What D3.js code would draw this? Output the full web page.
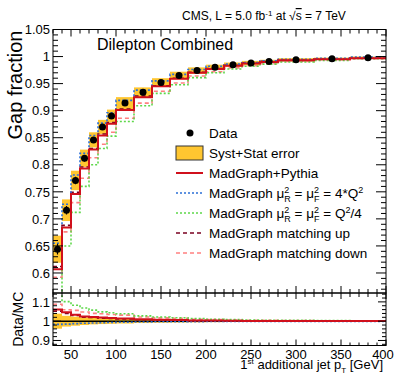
<!DOCTYPE html>
<html>
<head>
<meta charset="utf-8">
<script src="https://cdn.jsdelivr.net/npm/d3@7"></script>
<style>
  body { margin: 0; background: #fff; }
  svg { font-family: "Liberation Sans", Arial, sans-serif; }
</style>
</head>
<body>
<svg id="chart" width="407" height="391"></svg>
<script>
// bins in GeV
const binEdges = [30, 40, 50, 60, 70, 80, 90, 100, 120, 140, 160, 180, 200, 220, 240, 260, 280, 320, 360, 400];
// measured gap fraction
const dataGap  = [0.644, 0.716, 0.771, 0.812, 0.846, 0.870, 0.890, 0.914, 0.934, 0.952, 0.965, 0.974, 0.980, 0.985, 0.988, 0.991, 0.994, 0.996, 0.998];
const dataStat = [0.010, 0.008, 0.007, 0.006, 0.005, 0.005, 0.004, 0.003, 0.003, 0.002, 0.002, 0.002, 0.002, 0.001, 0.001, 0.001, 0.001, 0.001, 0.001];
const dataErr  = [0.025, 0.020, 0.018, 0.016, 0.014, 0.013, 0.012, 0.011, 0.009, 0.008, 0.007, 0.006, 0.005, 0.004, 0.004, 0.003, 0.003, 0.002, 0.002];
// simulations
const mgPythia  = [0.607, 0.684, 0.746, 0.793, 0.828, 0.854, 0.876, 0.901, 0.925, 0.945, 0.959, 0.970, 0.977, 0.983, 0.987, 0.990, 0.993, 0.995, 0.997];
const mgScaleUp = [0.655, 0.727, 0.781, 0.821, 0.854, 0.877, 0.896, 0.919, 0.938, 0.955, 0.967, 0.976, 0.982, 0.986, 0.989, 0.992, 0.995, 0.997, 0.999];
const mgScaleDn = [0.560, 0.650, 0.712, 0.760, 0.800, 0.830, 0.853, 0.880, 0.909, 0.932, 0.948, 0.961, 0.970, 0.977, 0.982, 0.986, 0.990, 0.993, 0.996];
const mgMatchUp = [0.612, 0.688, 0.749, 0.796, 0.830, 0.857, 0.878, 0.903, 0.927, 0.946, 0.960, 0.971, 0.978, 0.984, 0.988, 0.991, 0.993, 0.995, 0.997];
const mgMatchDn = [0.592, 0.676, 0.730, 0.775, 0.813, 0.838, 0.860, 0.886, 0.914, 0.936, 0.951, 0.964, 0.972, 0.979, 0.983, 0.987, 0.991, 0.994, 0.996];
// ticks
const xTicks = [50, 100, 150, 200, 250, 300, 350, 400];
const yTicks = [0.6, 0.65, 0.7, 0.75, 0.8, 0.85, 0.9, 0.95, 1, 1.05];
const rTicks = [0.9, 1, 1.1];

const YELLOW = "#ffc630";
const series = [
  {vals: mgPythia,  color: "#d0101c", dash: null,  w: 2},
  {vals: mgScaleUp, color: "#2b6fd6", dash: "2,2", w: 1.6},
  {vals: mgScaleDn, color: "#5ed84a", dash: "2,2", w: 1.6},
  {vals: mgMatchUp, color: "#7a0020", dash: "4,3", w: 1.6},
  {vals: mgMatchDn, color: "#ff8080", dash: "4,3", w: 1.6}
];

var svg = d3.select("#chart");
var L = 53, R = 386, T = 29.5, M = 293, B = 345.5;

var x = d3.scaleLinear().domain([30, 400]).range([L, R]);
var y = d3.scaleLinear().domain([0.563, 1.05]).range([M, T]);
var yr = d3.scaleLinear().domain([0.874, 1.146]).range([B, M]);

var defs = svg.append("defs");
defs.append("clipPath").attr("id", "clipMain").append("rect")
  .attr("x", L).attr("y", T).attr("width", R - L).attr("height", M - T);
defs.append("clipPath").attr("id", "clipRatio").append("rect")
  .attr("x", L).attr("y", M).attr("width", R - L).attr("height", B - M);

function stepPts(vals) {
  var pts = [];
  vals.forEach(function(v, i) { pts.push([binEdges[i], v]); pts.push([binEdges[i + 1], v]); });
  return pts;
}

// ---- main pad
var gMain = svg.append("g").attr("clip-path", "url(#clipMain)");
dataGap.forEach(function(v, i) {
  gMain.append("rect")
    .attr("x", x(binEdges[i])).attr("width", x(binEdges[i + 1]) - x(binEdges[i]))
    .attr("y", y(v + dataErr[i])).attr("height", y(v - dataErr[i]) - y(v + dataErr[i]))
    .style("fill", YELLOW);
});
var lineMain = d3.line().x(d => x(d[0])).y(d => y(d[1]));
series.slice().reverse().forEach(function(s) {
  gMain.append("path").attr("d", lineMain(stepPts(s.vals)))
    .style("fill", "none").style("stroke", s.color).style("stroke-width", s.w)
    .style("stroke-dasharray", s.dash);
});
dataGap.forEach(function(v, i) {
  var cx = x((binEdges[i] + binEdges[i + 1]) / 2);
  gMain.append("line").attr("x1", cx).attr("x2", cx)
    .attr("y1", y(v + dataStat[i])).attr("y2", y(v - dataStat[i]))
    .style("stroke", "black").style("stroke-width", 1.2);
  gMain.append("circle").attr("cx", cx).attr("cy", y(v)).attr("r", 3.5).style("fill", "black");
});

// ---- ratio pad
var gRat = svg.append("g").attr("clip-path", "url(#clipRatio)");
dataGap.forEach(function(v, i) {
  var rel = dataErr[i] / v;
  gRat.append("rect")
    .attr("x", x(binEdges[i])).attr("width", x(binEdges[i + 1]) - x(binEdges[i]))
    .attr("y", yr(1 + rel)).attr("height", yr(1 - rel) - yr(1 + rel))
    .style("fill", YELLOW);
});
gRat.append("line").attr("x1", L).attr("x2", R).attr("y1", yr(1)).attr("y2", yr(1))
  .style("stroke", "black").style("stroke-width", 1.5);
var lineRat = d3.line().x(d => x(d[0])).y(d => yr(d[1]));
series.slice().reverse().forEach(function(s) {
  var ratio = dataGap.map((v, i) => v / s.vals[i]);
  gRat.append("path").attr("d", lineRat(stepPts(ratio)))
    .style("fill", "none").style("stroke", s.color).style("stroke-width", s.w)
    .style("stroke-dasharray", s.dash);
});

// ---- frames and ticks
function frame(top, bot) {
  svg.append("rect").attr("x", L).attr("y", top).attr("width", R - L).attr("height", bot - top)
    .style("fill", "none").style("stroke", "black").style("stroke-width", 1);
}
frame(T, M);
frame(M, B);

function tickLines(vals, fn) {
  vals.forEach(function(v) { var a = fn(v); svg.append("line").attr("x1", a[0]).attr("y1", a[1]).attr("x2", a[2]).attr("y2", a[3]).style("stroke", "black").style("stroke-width", 1); });
}
var xMinor = d3.range(30, 401, 10).filter(v => v % 50 != 0);
var yMinor = d3.range(57, 105).map(v => v / 100).filter(v => Math.round(v * 100) % 5 != 0);
var rMinor = [0.88, 0.92, 0.94, 0.96, 0.98, 1.02, 1.04, 1.06, 1.08, 1.12, 1.14];

// main pad x ticks (top and bottom)
tickLines(xTicks, v => [x(v), T, x(v), T + 7]);
tickLines(xMinor, v => [x(v), T, x(v), T + 4]);
tickLines(xTicks, v => [x(v), M, x(v), M - 7]);
tickLines(xMinor, v => [x(v), M, x(v), M - 4]);
// ratio pad x ticks
tickLines(xTicks, v => [x(v), M, x(v), M + 6]);
tickLines(xMinor, v => [x(v), M, x(v), M + 4]);
tickLines(xTicks, v => [x(v), B, x(v), B - 6]);
tickLines(xMinor, v => [x(v), B, x(v), B - 3]);
// main y ticks
tickLines(yTicks, v => [L, y(v), L + 10, y(v)]);
tickLines(yMinor, v => [L, y(v), L + 5, y(v)]);
tickLines(yTicks, v => [R, y(v), R - 10, y(v)]);
tickLines(yMinor, v => [R, y(v), R - 5, y(v)]);
// ratio y ticks
tickLines(rTicks, v => [L, yr(v), L + 8, yr(v)]);
tickLines(rMinor, v => [L, yr(v), L + 4, yr(v)]);
tickLines(rTicks, v => [R, yr(v), R - 8, yr(v)]);
tickLines(rMinor, v => [R, yr(v), R - 4, yr(v)]);

// tick labels
var fmt = v => String(+v.toFixed(2));
svg.append("g").selectAll("text").data(yTicks).enter().append("text")
  .attr("x", 50).attr("y", d => y(d)).attr("dy", "0.36em")
  .attr("text-anchor", "end").style("font-size", "13px").text(fmt);
svg.append("g").selectAll("text").data(rTicks).enter().append("text")
  .attr("x", 50).attr("y", d => yr(d)).attr("dy", "0.36em")
  .attr("text-anchor", "end").style("font-size", "13px").text(fmt);
svg.append("g").selectAll("text").data(xTicks).enter().append("text")
  .attr("x", d => d == 400 ? x(d) - 3 : x(d)).attr("y", 358.5)
  .attr("text-anchor", "middle").style("font-size", "13px").text(d => d);

// axis titles
svg.append("text").attr("transform", "translate(22," + (T + 1) + ") rotate(-90)")
  .attr("text-anchor", "end").style("font-size", "20px").text("Gap fraction");
svg.append("text").attr("transform", "translate(23," + ((M + B) / 2) + ") rotate(-90)")
  .attr("text-anchor", "middle").style("font-size", "14px").text("Data/MC");

var xt = svg.append("text").attr("x", 383).attr("y", 369).attr("text-anchor", "end").style("font-size", "13px");
xt.append("tspan").text("1");
xt.append("tspan").attr("dy", -5).style("font-size", "8px").text("st");
xt.append("tspan").attr("dy", 5).text(" additional jet p");
xt.append("tspan").attr("dy", 4).style("font-size", "8px").text("T");
xt.append("tspan").attr("dy", -4).text(" [GeV]");

// header
var ht = svg.append("text").attr("x", 182).attr("y", 20).style("font-size", "12px");
ht.append("tspan").text("CMS, L = 5.0 fb");
ht.append("tspan").attr("dy", -4).style("font-size", "8px").text("-1");
ht.append("tspan").attr("dy", 4).text(" at ");
ht.append("tspan").text("\u221A");
ht.append("tspan").style("text-decoration", "overline").text("s");
ht.append("tspan").text(" = 7 TeV");

svg.append("text").attr("x", 97).attr("y", 50).style("font-size", "16px").text("Dilepton Combined");

// ---- legend
var lg = svg.append("g").style("font-size", "13.5px");
var rowY = i => 133 + 20 * i;
lg.append("circle").attr("cx", 190).attr("cy", rowY(0)).attr("r", 3.5).style("fill", "black");
lg.append("rect").attr("x", 176).attr("y", rowY(1) - 7).attr("width", 27).attr("height", 14)
  .style("fill", YELLOW).style("stroke", "#333").style("stroke-width", 1);
series.forEach(function(s, i) {
  lg.append("line").attr("x1", 176).attr("x2", 203).attr("y1", rowY(i + 2)).attr("y2", rowY(i + 2))
    .style("stroke", s.color).style("stroke-width", s.w).style("stroke-dasharray", s.dash);
});
function legText(i) { return lg.append("text").attr("x", 209).attr("y", rowY(i) + 4.5); }
legText(0).text("Data");
legText(1).text("Syst+Stat error");
legText(2).text("MadGraph+Pythia");
function muText(t, last) {
  t.append("tspan").text("MadGraph \u03BC");
  t.append("tspan").attr("dy", -5).style("font-size", "9px").text("2");
  t.append("tspan").attr("dx", -5).attr("dy", 9).style("font-size", "9px").text("R");
  t.append("tspan").attr("dy", -4).text(" = \u03BC");
  t.append("tspan").attr("dy", -5).style("font-size", "9px").text("2");
  t.append("tspan").attr("dx", -5).attr("dy", 9).style("font-size", "9px").text("F");
  t.append("tspan").attr("dy", -4).text(last[0]);
  t.append("tspan").attr("dy", -5).style("font-size", "9px").text("2");
  if (last[1]) t.append("tspan").attr("dy", 5).text(last[1]);
}
muText(legText(3), [" = 4*Q", ""]);
muText(legText(4), [" = Q", "/4"]);
legText(5).text("MadGraph matching up");
legText(6).text("MadGraph matching down");
</script>
</body>
</html>
